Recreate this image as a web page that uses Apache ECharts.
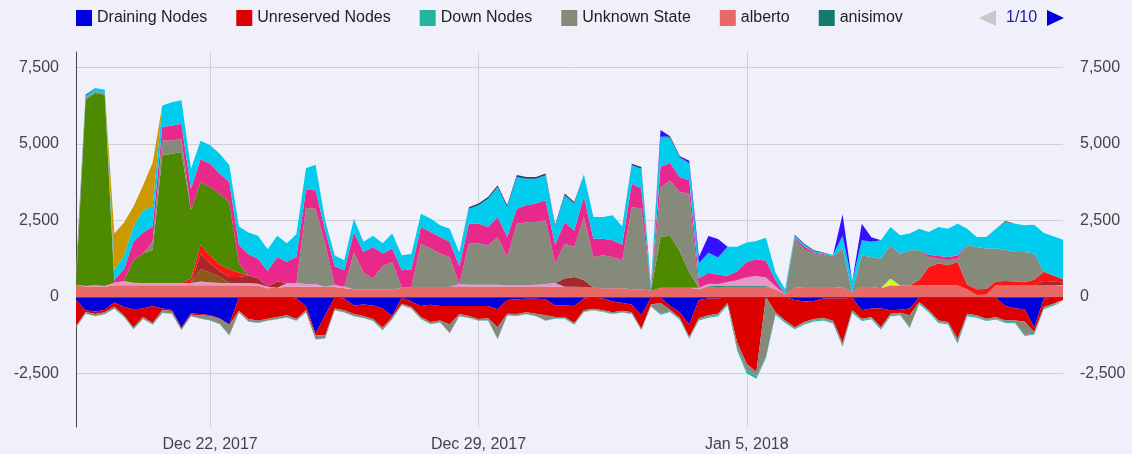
<!DOCTYPE html>
<html>
<head>
<meta charset="utf-8">
<script src="https://cdn.jsdelivr.net/npm/echarts@6/dist/echarts.min.js"></script>
<style>
html,body{margin:0;padding:0;background:#f0f0fa;}
#chart{width:1132px;height:454px;}
</style>
</head>
<body>
<div id="chart"></div>
<script>
// ---- time base: one sample every 6 hours, Dec 18 2017 12:00 .. Jan 13 2018 06:00 ----
const startTime = new Date(2017, 11, 18, 12, 0, 0).getTime();
const stepHours = 6;

const xTickDates = ['2017-12-22 00:00', '2017-12-29 00:00', '2018-01-05 00:00'];
const xTickLabels = ['Dec 22, 2017', 'Dec 29, 2017', 'Jan 5, 2018'];
const yTickValues = [-2500, 0, 2500, 5000, 7500];
const yTickLabels = ['-2,500', '0', '2,500', '5,000', '7,500'];
const yMin = -4250, yMax = 8000;

const legendNames = ['Draining Nodes', 'Unreserved Nodes', 'Down Nodes', 'Unknown State', 'alberto', 'anisimov'];
const legendPageText = '1/10';

// ---- negative series ----
const drainingNodes = [
 -100,-440,-480,-430,-180,-330,-400,-380,-300,-380,
 -430,-1000,-540,-560,-600,-700,-900,-20,0,0,
 0,0,0,-50,-300,-1200,-600,-20,-50,-280,
 -250,-280,-380,-620,-30,-150,-300,-260,-300,-300,
 -300,-300,-300,-300,-400,-100,-80,-60,-60,-80,
 -280,-280,-300,-50,-30,-50,-150,-200,-250,-600,
 -30,-20,-300,-500,-900,-100,-50,-50,0,0,
 0,0,0,0,0,-100,-150,-130,-50,-50,
 -50,-30,-440,-380,-380,-440,-420,-380,-20,0,
 0,0,0,-20,-30,-40,-40,-300,-380,-400,
 -1000,-50,-30,-20];
const unreservedNodes = [
 -850,-50,-80,-70,-140,-270,-600,-270,-550,-60,
 -30,-40,-40,-40,-20,-20,-20,-430,-720,-780,
 -710,-660,-600,-660,-140,-60,-650,-360,-390,-280,
 -370,-440,-620,-40,-190,-180,-360,-560,-470,-600,
 -260,-320,-420,-400,-590,-450,-480,-440,-490,-520,
 -380,-380,-550,-390,-360,-390,-350,-250,-250,-440,
 -220,-180,-120,-180,-400,-600,-550,-500,-200,-1500,
 -2180,-2450,0,-500,-770,-890,-670,-590,-630,-730,
 -1450,-410,-270,-280,-610,-110,-100,-220,-150,-440,
 -770,-820,-1370,-530,-570,-670,-620,-470,-390,-400,
 -150,-280,-190,-80];
const unknownState = [
 -50,-50,-60,-60,-60,-50,-50,-60,-50,-80,
 -80,-40,-40,-100,-140,-160,-330,-50,-80,-60,
 -60,-60,-60,-60,-60,-120,-100,-50,-60,-60,
 -60,-60,-80,-60,-40,-50,-50,-60,-60,-280,
 -60,-60,-50,-60,-380,-50,-50,-60,-70,-170,
 -40,-40,-50,-40,-40,-40,-50,-50,-50,-40,
 -50,-350,-40,-40,-40,-40,-50,-50,-50,-200,
 -220,-130,-1950,-50,-50,-40,-50,-50,-60,-60,
 -100,-60,-50,-40,-50,-50,-50,-390,-40,-40,
 -50,-50,-130,-50,-50,-50,-50,-50,-60,-450,
 -50,-40,-40,-30];
const downNodes = [
 -10,-10,-10,-10,-10,-10,-10,-10,-10,-10,
 -10,-10,-10,-10,-10,-10,-10,-10,-10,-10,
 -10,-10,-10,-10,-10,-10,-10,-10,-10,-10,
 -10,-10,-10,-10,-10,-10,-10,-10,-10,-10,
 -10,-10,-10,-10,-10,-10,-10,-10,-10,-10,
 -10,-10,-10,-10,-10,-10,-10,-10,-10,-10,
 -10,-30,-30,-30,-30,-30,-30,-30,-30,-60,
 -100,-90,-50,-30,-30,-30,-30,-30,-30,-30,
 -30,-30,-30,-30,-30,-30,-30,-30,-30,-30,
 -30,-30,-30,-30,-30,-30,-30,-30,-30,-30,
 -30,-30,-30,-30];

// ---- positive series (bottom to top) ----
const alberto = [
 400,330,350,330,380,380,380,380,380,380,
 380,380,380,380,380,380,380,380,370,370,
 280,300,330,330,330,330,330,320,280,250,
 250,250,250,250,300,320,320,320,320,320,
 320,320,330,330,330,320,320,320,320,320,
 330,330,330,320,300,280,280,280,250,250,
 200,300,300,300,300,250,320,320,330,330,
 330,330,330,250,80,300,320,320,320,320,
 300,150,320,320,280,380,370,370,370,380,
 380,380,380,250,60,80,380,370,370,370,
 370,370,370,370];
const anisimov = [
 0,0,0,0,0,0,0,0,0,0,
 0,0,0,0,0,0,0,0,0,0,
 0,0,0,0,0,0,0,0,0,0,
 0,0,0,0,0,0,0,0,0,0,
 0,0,0,0,0,0,0,0,0,0,
 0,0,0,0,0,0,0,0,0,0,
 0,0,0,0,0,0,30,40,40,40,
 40,30,30,0,0,0,0,0,0,0,
 0,0,0,0,0,0,0,0,0,0,
 0,0,0,0,0,0,0,0,0,0,
 20,20,20,20];
const userPinkLight = [
 0,30,30,30,80,140,80,70,70,70,
 70,70,70,120,100,70,70,70,80,60,
 50,0,120,120,90,90,0,80,50,0,
 0,0,0,0,0,0,0,0,0,0,
 100,80,70,70,70,60,60,60,80,100,
 120,0,0,0,0,0,0,0,0,0,
 0,0,0,0,0,50,80,60,120,170,
 270,320,270,100,0,0,0,0,0,0,
 0,0,0,0,0,0,0,0,0,0,
 0,0,0,0,0,0,0,0,0,0,
 0,0,0,0];
const userBrown = [
 0,0,0,0,0,0,0,0,0,0,
 0,0,0,400,320,200,0,0,0,0,
 0,0,0,0,0,0,0,0,0,0,
 0,0,0,0,0,0,0,0,0,0,
 0,0,0,0,0,0,0,0,0,0,
 0,0,0,0,0,0,0,0,0,0,
 0,0,0,0,0,0,0,0,0,0,
 0,0,0,0,0,0,0,0,0,0,
 0,0,0,0,0,0,0,0,0,0,
 0,0,0,0,0,0,0,0,0,0,
 0,0,0,0];
const userMaroon = [
 0,0,0,0,0,0,0,0,0,0,
 0,0,0,500,300,200,200,200,250,170,
 0,200,0,0,0,0,0,0,0,0,
 0,0,0,0,0,0,0,0,0,0,
 0,0,0,0,0,0,0,0,0,0,
 0,270,320,230,0,0,0,0,0,0,
 0,0,0,0,0,0,0,0,0,0,
 0,0,0,0,0,0,0,0,0,0,
 0,0,0,0,0,0,0,0,0,0,
 0,0,0,0,0,0,0,0,0,0,
 0,130,110,80];
const userRed = [
 0,0,0,0,0,0,0,0,0,0,
 0,0,150,300,250,200,250,150,0,0,
 0,0,0,0,0,0,0,0,0,0,
 0,0,0,0,0,0,0,0,0,0,
 0,0,0,0,0,0,0,0,0,0,
 0,0,0,0,0,0,0,0,0,0,
 0,0,0,0,0,0,0,0,0,0,
 0,0,0,0,0,0,0,0,0,0,
 0,0,0,0,0,0,0,0,180,595,
 720,650,760,150,190,180,120,150,130,110,
 170,300,200,110];
const userLime = [
 0,0,0,0,0,0,0,0,0,0,
 0,0,0,0,0,0,0,0,0,0,
 0,0,0,0,0,0,0,0,0,0,
 0,0,0,0,0,0,0,0,0,0,
 0,0,0,0,0,0,0,0,0,0,
 0,0,0,0,0,0,0,0,0,0,
 0,0,0,0,0,0,0,0,0,0,
 0,0,0,0,0,0,0,0,0,0,
 0,0,0,0,0,220,0,0,0,0,
 0,0,0,0,0,0,0,0,0,0,
 0,0,0,0];
const userGreen = [
 0,6080,6280,6240,0,0,740,970,1080,4170,
 4230,4280,2230,2050,2240,2320,2200,300,0,0,
 0,0,0,0,0,0,0,0,0,0,
 0,0,0,0,0,0,0,0,0,0,
 0,0,0,0,0,0,0,0,0,0,
 0,0,0,0,0,0,0,0,0,0,
 0,1660,1700,1200,500,0,0,0,0,0,
 0,0,0,0,0,0,0,0,0,0,
 0,0,0,0,0,0,0,0,0,0,
 0,0,0,0,0,0,0,0,0,0,
 0,0,0,0];
const userGrey = [
 520,60,60,60,0,0,0,0,270,490,
 430,440,0,0,0,0,0,0,0,0,
 0,0,0,0,2480,2460,1410,0,0,1200,
 550,350,750,900,0,0,1420,1260,1100,980,
 0,1340,1350,1290,1560,920,2010,2060,2050,2080,
 650,1140,980,2060,1000,1080,1020,920,2690,2630,
 50,1630,1800,1930,2570,0,0,0,0,0,
 0,0,0,0,0,1600,1230,1100,1050,980,
 1300,0,1040,980,970,1090,1040,1150,970,325,
 150,170,110,1290,1380,1320,1080,1000,970,990,
 860,0,0,0];
const userMagenta = [
 0,0,0,0,100,380,600,680,500,440,
 490,490,700,750,760,650,650,600,690,650,
 520,800,700,850,600,600,430,600,540,650,
 670,1030,420,430,570,580,540,540,540,500,
 580,650,650,590,650,660,490,550,600,660,
 600,700,540,660,600,540,550,500,760,660,
 0,660,570,490,440,300,360,300,200,300,
 500,550,550,200,0,50,90,40,30,30,
 0,0,0,0,0,0,0,0,0,80,
 90,100,100,0,0,0,0,20,0,0,
 0,0,0,0];
const userCyan = [
 0,60,100,110,310,450,500,720,650,700,
 760,760,660,600,600,660,550,600,710,750,
 710,700,600,750,700,840,330,350,330,450,
 330,370,330,490,490,500,440,440,380,430,
 450,490,590,930,980,980,1040,870,810,810,
 600,880,880,730,710,710,820,600,600,650,
 150,980,830,630,550,500,650,570,950,800,
 640,600,750,250,170,50,60,30,30,40,
 400,350,490,500,600,590,600,550,710,740,
 940,930,1040,540,330,380,650,910,920,870,
 940,1270,1280,1290];
const userGold = [
 0,0,0,0,1200,1070,650,820,1430,0,
 0,0,0,0,0,0,0,0,0,0,
 0,0,0,0,0,0,0,0,0,0,
 0,0,0,0,0,0,0,0,0,0,
 0,0,0,0,0,0,0,0,0,0,
 0,0,0,0,0,0,0,0,0,0,
 0,0,0,0,0,0,0,0,0,0,
 0,0,0,0,0,0,0,0,0,0,
 0,0,0,0,0,0,0,0,0,0,
 0,0,0,0,0,0,0,0,0,0,
 0,0,0,0];
const userNavy = [
 0,40,0,0,0,0,0,0,0,0,
 0,0,0,0,0,0,0,0,0,0,
 0,0,0,0,0,0,0,0,0,0,
 0,0,0,0,0,0,0,0,0,0,
 0,50,60,50,60,50,60,60,60,60,
 50,60,50,0,0,0,0,0,50,50,
 0,0,50,50,0,0,0,0,0,0,
 0,0,0,0,0,30,40,30,20,0,
 0,0,0,0,0,0,0,0,0,0,
 0,0,0,0,0,0,0,30,0,0,
 0,0,0,0];
const userViolet = [
 0,0,0,0,0,0,0,0,0,0,
 0,0,0,0,0,0,0,0,0,0,
 0,0,0,0,0,0,0,0,0,0,
 0,0,0,0,0,0,0,0,0,0,
 0,0,0,0,0,0,0,0,0,0,
 0,0,0,0,0,0,0,0,0,0,
 0,220,0,0,90,200,550,600,0,0,
 0,0,0,0,0,0,0,0,0,0,
 700,0,540,150,0,0,0,0,0,0,
 0,0,0,0,0,0,0,0,0,0,
 0,0,0,0];

// ---- styling ----
const layers = [
  ['Draining Nodes', drainingNodes, '#0000dd'],
  ['Unreserved Nodes', unreservedNodes, '#dd0000'],
  ['Unknown State', unknownState, '#878a7b'],
  ['Down Nodes', downNodes, '#22b5a0'],
  ['alberto', alberto, '#e86a68'],
  ['anisimov', anisimov, '#157a6c'],
  ['user pink', userPinkLight, '#e39ac6'],
  ['user brown', userBrown, '#8b5a14'],
  ['user maroon', userMaroon, '#a8282c'],
  ['user red', userRed, '#ff1414'],
  ['user lime', userLime, '#ccff22'],
  ['user green', userGreen, '#4e8a00'],
  ['user grey', userGrey, '#868a7b'],
  ['user magenta', userMagenta, '#e8288a'],
  ['user cyan', userCyan, '#00ccee'],
  ['user gold', userGold, '#cc9900'],
  ['user navy', userNavy, '#2e3d6e'],
  ['user violet', userViolet, '#3311ff']
];

function pad(n) { return (n < 10 ? '0' : '') + n; }
const categories = alberto.map((_, i) => {
  const d = new Date(startTime + i * stepHours * 3600 * 1000);
  return d.getFullYear() + '-' + pad(d.getMonth() + 1) + '-' + pad(d.getDate()) + ' ' + pad(d.getHours()) + ':00';
});
const tickIndex = xTickDates.map(s => categories.indexOf(s));
const FONT = '"Liberation Sans", Arial, sans-serif';

const series = layers.map(([name, values, color], k) => {
  const s = {
    name: name, type: 'line', stack: 'nodes', stackStrategy: 'samesign',
    symbol: 'none', showSymbol: false, silent: true,
    color: color,
    lineStyle: {width: 0, color: color},
    itemStyle: {color: color},
    areaStyle: {color: color, opacity: 1},
    data: values
  };
  if (k === layers.length - 1) {
    s.markLine = {silent: true, symbol: 'none', label: {show: false},
      lineStyle: {color: '#6a4040', width: 1, type: 'solid'},
      data: [{yAxis: 0}]};
  }
  return s;
});

const chart = echarts.init(document.getElementById('chart'));
chart.setOption({
  backgroundColor: '#f0f0fa',
  animation: false,
  textStyle: {fontFamily: FONT},
  grid: {left: 76, right: 69, top: 52, bottom: 27, containLabel: false},
  legend: {
    data: legendNames, left: 76, top: 10, padding: 0, icon: 'rect',
    itemWidth: 16, itemHeight: 16, itemGap: 29,
    textStyle: {fontSize: 16, color: '#222', fontFamily: FONT},
    selectedMode: false
  },
  graphic: [
    {type: 'polygon', shape: {points: [[996, 10], [996, 26], [979, 18]]}, style: {fill: '#c8c8c8'}},
    {type: 'text', x: 1006, y: 18, style: {text: legendPageText, fill: '#1c1caa', font: '16px ' + FONT, verticalAlign: 'middle'}},
    {type: 'polygon', shape: {points: [[1047, 10], [1047, 26], [1064, 18]]}, style: {fill: '#0000dd'}}
  ],
  xAxis: {
    type: 'category', data: categories, boundaryGap: false,
    axisLine: {show: false},
    axisTick: {show: false},
    axisLabel: {
      interval: (idx) => tickIndex.indexOf(idx) >= 0,
      fontSize: 16, color: '#444', margin: 10, fontFamily: FONT,
      formatter: (v, idx) => {
        const j = tickIndex.indexOf(idx);
        return j >= 0 ? xTickLabels[j] : '';
      }
    },
    splitLine: {show: true, interval: (idx) => tickIndex.indexOf(idx) >= 0,
      lineStyle: {color: '#cfcfd4', width: 1}}
  },
  yAxis: [
    {
      type: 'value', min: yMin, max: yMax, position: 'left',
      axisLine: {show: true, onZero: false, lineStyle: {color: '#444', width: 1}},
      axisTick: {show: false, customValues: yTickValues},
      axisLabel: {customValues: yTickValues, fontSize: 16, color: '#444', margin: 17, fontFamily: FONT,
        formatter: v => yTickLabels[yTickValues.indexOf(v)]},
      splitLine: {show: true, lineStyle: {color: '#cfcfd4', width: 1}}
    },
    {
      type: 'value', min: yMin, max: yMax, position: 'right',
      axisLine: {show: false},
      axisTick: {show: false, customValues: yTickValues},
      axisLabel: {customValues: yTickValues, fontSize: 16, color: '#444', margin: 17, fontFamily: FONT,
        formatter: v => yTickLabels[yTickValues.indexOf(v)]},
      splitLine: {show: false}
    }
  ],
  series: series
});
</script>
</body>
</html>
